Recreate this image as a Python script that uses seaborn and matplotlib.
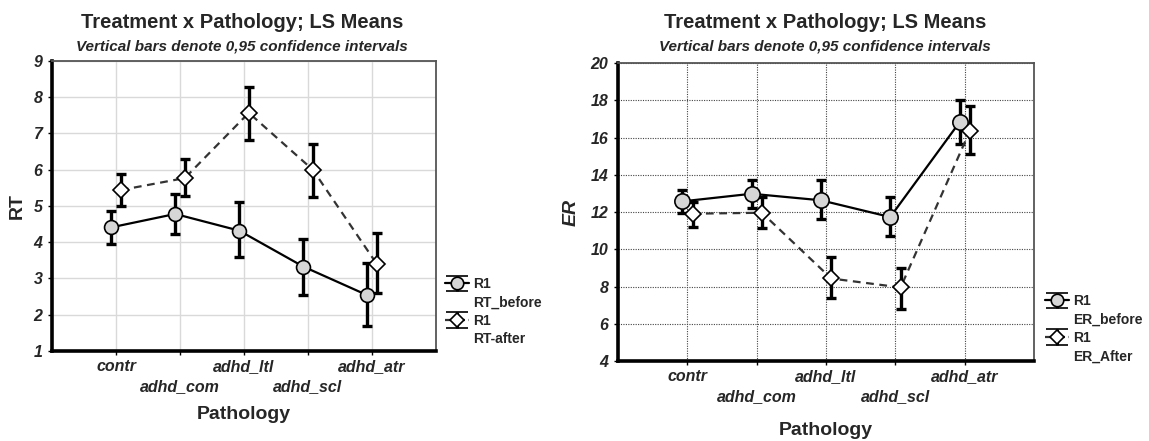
import numpy as np
import pandas as pd
import matplotlib
matplotlib.use("Agg")
import matplotlib.pyplot as plt
import seaborn as sns
from matplotlib.lines import Line2D
from matplotlib.legend_handler import HandlerErrorbar

# ---------------- data ----------------
pathology = ['contr', 'adhd_com', 'adhd_ltl', 'adhd_scl', 'adhd_atr']

rt_before = [4.41, 4.78, 4.32, 3.33, 2.54]
rt_before_lo = [3.95, 4.22, 3.58, 2.54, 1.68]
rt_before_hi = [4.87, 5.33, 5.11, 4.10, 3.42]
rt_after = [5.44, 5.77, 7.57, 6.00, 3.40]
rt_after_lo = [5.00, 5.28, 6.83, 5.26, 2.59]
rt_after_hi = [5.89, 6.30, 8.29, 6.72, 4.25]

er_before = [12.57, 12.98, 12.63, 11.73, 16.82]
er_before_lo = [11.96, 12.21, 11.60, 10.71, 15.66]
er_before_hi = [13.16, 13.73, 13.73, 12.80, 18.04]
er_after = [11.91, 11.96, 8.43, 7.95, 16.37]
er_after_lo = [11.20, 11.14, 7.36, 6.77, 15.13]
er_after_hi = [12.54, 12.80, 9.59, 9.02, 17.70]

rt_yticks = list(range(1, 10))
er_yticks = list(range(4, 21, 2))

title_text = 'Treatment x Pathology; LS Means'
subtitle_text = 'Vertical bars denote 0,95 confidence intervals'

# ---------------- style ----------------
sns.set_style("white")
plt.rcParams['font.family'] = ['Liberation Sans', 'DejaVu Sans']
plt.rcParams['font.weight'] = 'bold'

fig = plt.figure(figsize=(11.49, 4.41), dpi=100)
ax1 = fig.add_axes([0.04526, 0.2041, 0.3342, 0.6576])
ax2 = fig.add_axes([0.5379, 0.1814, 0.3621, 0.6757])

OFF = 0.075
pos = np.arange(len(pathology))
CIRC_FC = '#d6d6d6'


def draw_series(ax, mean, lo, hi, offset, marker, ls, fc, ms, color):
    x = pos + offset
    mean = np.asarray(mean)
    yerr = [mean - np.asarray(lo), np.asarray(hi) - mean]
    ax.errorbar(x, mean, yerr=yerr, fmt='none', ecolor='black',
                elinewidth=2.4, capsize=3.6, capthick=2.4, zorder=2)
    df = pd.DataFrame({'x': x, 'y': mean})
    sns.lineplot(data=df, x='x', y='y', ax=ax, color=color, linestyle=ls,
                 linewidth=1.6, marker=marker, markersize=ms,
                 markerfacecolor=fc, markeredgecolor='black',
                 markeredgewidth=1.2, errorbar=None, zorder=3)


def proxy(ax, marker, ls, fc, ms, color):
    h = ax.errorbar([np.nan], [np.nan], yerr=[[np.nan], [np.nan]],
                    fmt=marker, linestyle=ls, color=color, ecolor='black',
                    markerfacecolor=fc, markeredgecolor='black', markersize=ms,
                    markeredgewidth=1.2, elinewidth=2.2, capsize=8,
                    capthick=2.2, linewidth=1.6)
    return h


def style_axes(ax, yticks, ylim, grid_kw, ylab, ylab_italic, ylab_x, xlab_y):
    ax.set_xlim(-1, 5)
    ax.set_ylim(*ylim)
    ax.set_yticks(yticks)
    ax.set_yticklabels([str(t) for t in yticks], fontsize=11.5,
                       fontweight='bold', fontstyle='italic')
    # staggered category labels: even on major ticks, odd on minor ticks
    ax.set_xticks(pos[0::2])
    ax.set_xticklabels(pathology[0::2], fontsize=11.5, fontweight='bold',
                       fontstyle='italic')
    ax.set_xticks(pos[1::2], minor=True)
    ax.set_xticklabels(pathology[1::2], minor=True, fontsize=11.5,
                       fontweight='bold', fontstyle='italic')
    ax.grid(True, which='both', axis='x', **grid_kw)
    ax.grid(True, which='major', axis='y', **grid_kw)
    ax.set_axisbelow(True)
    for s in ['left', 'bottom']:
        ax.spines[s].set_color('black')
        ax.spines[s].set_linewidth(2.6)
    for s in ['top', 'right']:
        ax.spines[s].set_color('#555555')
        ax.spines[s].set_linewidth(1.3)
    ax.tick_params(axis='both', which='both', direction='out', length=3,
                   width=1, color='black', left=True, bottom=True)
    ax.tick_params(axis='x', which='major', pad=3)
    ax.tick_params(axis='x', which='minor', pad=17.5)
    ax.tick_params(axis='y', pad=4)
    ax.set_xlabel('Pathology', fontsize=14, fontweight='bold', va='center')
    ax.xaxis.set_label_coords(0.5, xlab_y)
    ax.set_ylabel(ylab, fontsize=14, fontweight='bold',
                  fontstyle='italic' if ylab_italic else 'normal', va='center')
    ax.yaxis.set_label_coords(ylab_x, 0.5)


# ---------------- left panel: RT ----------------
draw_series(ax1, rt_before, rt_before_lo, rt_before_hi, -OFF, 'o', '-', CIRC_FC, 10, 'black')
draw_series(ax1, rt_after, rt_after_lo, rt_after_hi, OFF, 'D', (0, (3.5, 2.5)), 'white', 8, '#333333')
style_axes(ax1, rt_yticks, (1, 9), dict(color='#d9d9d9', linewidth=1.0, linestyle='-'),
           'RT', False, -0.0896, -0.2207)
hb1 = proxy(ax1, 'o', '-', CIRC_FC, 9, 'black')
ha1 = proxy(ax1, 'D', '--', 'white', 7, '#333333')

# ---------------- right panel: ER ----------------
draw_series(ax2, er_before, er_before_lo, er_before_hi, -OFF, 'o', '-', CIRC_FC, 11, 'black')
draw_series(ax2, er_after, er_after_lo, er_after_hi, OFF, 'D', (0, (3.5, 2.5)), 'white', 8.5, '#333333')
style_axes(ax2, er_yticks, (4, 20), dict(color='#444444', linewidth=0.8, linestyle=(0, (1, 1.2))),
           'ER', True, -0.113, -0.2316)
hb2 = proxy(ax2, 'o', '-', CIRC_FC, 9, 'black')
ha2 = proxy(ax2, 'D', '--', 'white', 7, '#333333')

for ax in (ax1, ax2):
    if ax.get_legend() is not None:
        ax.get_legend().remove()

# ---------------- titles ----------------
for cx in (0.2104, 0.7180):
    fig.text(cx, 1 - 22 / 441, title_text, ha='center', va='center',
             fontsize=14.5, fontweight='bold')
    fig.text(cx, 1 - 46.5 / 441, subtitle_text, ha='center', va='center',
             fontsize=11, fontweight='bold', fontstyle='italic')

# ---------------- legends ----------------
blank = Line2D([], [], linestyle='none', marker=None)


def make_legend(handles, labels, x_px, ytop_px):
    fig.legend(handles, labels, loc='upper left',
               bbox_to_anchor=(x_px / 1149, 1 - ytop_px / 441),
               bbox_transform=fig.transFigure, frameon=False,
               borderpad=0, borderaxespad=0, handlelength=1.7,
               handletextpad=0.35, labelspacing=0.32,
               prop=dict(size=10, weight='bold'),
               handler_map={type(hb1): HandlerErrorbar(yerr_size=0.55)})


make_legend([hb1, blank, ha1, blank], ['R1', 'RT_before', 'R1', 'RT-after'], 445, 277)
make_legend([hb2, blank, ha2, blank], ['R1', 'ER_before', 'R1', 'ER_After'], 1045, 294)

fig.savefig('out.png', dpi=100)
